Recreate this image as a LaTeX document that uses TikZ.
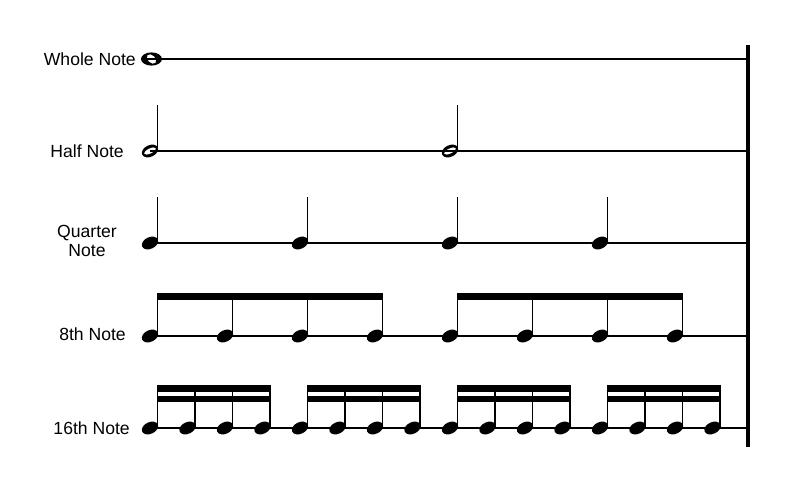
\documentclass[tikz,border=0pt]{standalone}
\usepackage{fontspec}
\setmainfont{Liberation Sans}
\usetikzlibrary{positioning}

\newcommand{\fullhead}[2]{\fill[rotate around={25:(#1,#2)}] (#1,#2) ellipse [x radius=8.6, y radius=5.8];}
\newcommand{\openhead}[2]{\fill[even odd rule, rotate around={25:(#1,#2)}] (#1,#2) ellipse [x radius=8.6, y radius=5.8] (#1,#2) ellipse [x radius=6.6, y radius=2.6];}

\begin{document}
\begin{tikzpicture}[x=0.025cm, y=-0.025cm]
		\tikzstyle{staff} = [line width=1.4pt]
		\tikzstyle{stem} = [line width=1.2pt]
		\tikzstyle{barline} = [line width=2.3pt]
		\tikzstyle{label} = [inner sep=0pt, font=\fontsize{12.5}{13.5}\selectfont]
		\useasboundingbox (0,0) rectangle (800,500);

		% labels
		\node (whole) [label, anchor=east] at (136,59) {Whole Note};
		\node (half) [label, anchor=east] at (124,151) {Half Note};
		\node (quarter) [label, align=center] at (87,241) {Quarter\\Note};
		\node (eighth) [label, anchor=east] at (126,334) {8th Note};
		\node (sixteenth) [label, anchor=east] at (130,428) {16th Note};

		% staff lines
		\draw[staff] (141,59) -- (748,59);
		\foreach \y in {151,243,336,428}
			\draw[staff] (150,\y) -- (748,\y);
		\draw[barline] (748,45) -- (748,447);

		% whole note
		\fill[even odd rule] (151.5,59) ellipse [x radius=10.5, y radius=6.6]
			[rotate around={-45:(151.5,59)}] (151.5,59) ellipse [x radius=5.6, y radius=3.8];

		% half notes
		\foreach \x in {150,450} {
			\openhead{\x}{151}
			\draw[stem] (\x+7.5,150) -- (\x+7.5,105);
		}

		% quarter notes
		\foreach \x in {150,300,450,600} {
			\fullhead{\x}{243}
			\draw[stem] (\x+7.5,242) -- (\x+7.5,197);
		}

		% 8th notes
		\foreach \g in {150,450} {
			\fill (\g+6.8,293) rectangle (\g+233.2,299.5);
			\foreach \i in {0,...,3} {
				\pgfmathsetmacro\x{\g+75*\i}
				\fullhead{\x}{336}
				\draw[stem] (\x+7.5,335) -- (\x+7.5,293);
			}
		}

		% 16th notes
		\foreach \g in {150,300,450,600} {
			\fill (\g+6.8,385) rectangle (\g+120.7,391.5);
			\fill (\g+6.8,396) rectangle (\g+120.7,402);
			\foreach \i in {0,...,3} {
				\pgfmathsetmacro\x{\g+37.5*\i}
				\fullhead{\x}{428}
				\draw[stem] (\x+7.5,427) -- (\x+7.5,385);
			}
		}
	\end{tikzpicture}
\end{document}
